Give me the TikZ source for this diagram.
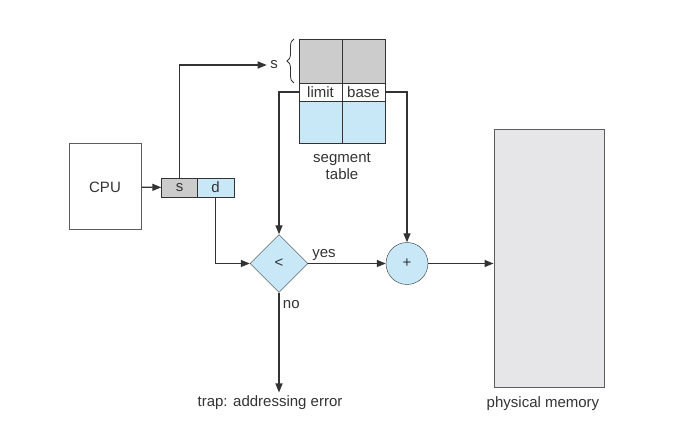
\documentclass[tikz,border=0pt]{standalone}
\usepackage{fontspec}
\setmainfont{Liberation Sans}
\usetikzlibrary{shapes.geometric, arrows.meta, decorations.pathreplacing}
\definecolor{cellgray}{HTML}{CCCCCC}
\definecolor{cellblue}{HTML}{C8E8F8}
\definecolor{memgray}{HTML}{E6E6E8}
\definecolor{ink}{HTML}{333333}

\begin{document}
\begin{tikzpicture}[x=1pt, y=-1pt,
    every node/.style={font=\fontsize{15}{17}\selectfont, text=ink},
    cell/.style={draw=ink, rectangle, inner sep=0pt},
    link/.style={-{Triangle[length=9pt, width=7pt]}, draw=ink, line width=1.3pt}]
\useasboundingbox (0,0) rectangle (677,446);

% CPU and logical address
\node[draw=ink!80, line width=1pt, rectangle, minimum width=72, minimum height=86] (cpu) at (105,187) {CPU};
\node[cell, fill=cellgray, minimum width=36, minimum height=19] (sfield) at (179.5,187.5) {s};
\node[cell, fill=cellblue, minimum width=37, minimum height=19] (dfield) at (215.5,187.5) {d};

% Segment table
\node[cell, fill=cellgray, minimum width=43, minimum height=44] (glimit) at (320.5,61) {};
\node[cell, fill=cellgray, minimum width=43, minimum height=44] (gbase) at (363.5,61) {};
\node[cell, fill=white, minimum width=43, minimum height=18] (limit) at (320.5,92) {limit};
\node[cell, fill=white, minimum width=43, minimum height=18] (base) at (363.5,92) {base};
\node[cell, fill=cellblue, minimum width=43, minimum height=42] (blimit) at (320.5,122) {};
\node[cell, fill=cellblue, minimum width=43, minimum height=42] (bbase) at (363.5,122) {};
\node[align=center] (tablename) at (342,166) {segment\\table};
\draw[ink, line width=0.8pt, decorate, decoration={brace, amplitude=7pt}] (294,83) -- (294,39);
\node (sindex) at (274,65) {s};

% Compare, add, memory
\node[draw=ink, diamond, aspect=1, fill=cellblue, inner sep=0pt, minimum width=58, minimum height=58] (lt) at (279,263.5) {<};
\node[draw=ink, circle, fill=cellblue, inner sep=0pt, minimum size=42] (plus) at (407,263.5) {+};
\node[draw=ink!80, line width=1pt, rectangle, fill=memgray, minimum width=110, minimum height=257] (mem) at (549,258.5) {};
\node (memname) at (543,404) {physical memory};
\node (trap) at (270,403) {trap: addressing error};

\draw[link] (cpu) -- (sfield);
\draw[link] (sfield.north) |- (sindex.west);
\draw[link] (dfield.south) |- (lt.west);
\draw[link] (limit.west) -| (lt.north);
\draw[link] (base.east) -| (plus.north);
\draw[link] (lt.east) -- node[pos=0.02, anchor=south west, inner sep=2pt] {yes} (plus.west);
\draw[link] (plus.east) -- (plus.east -| mem.west);
\draw[link] (lt.south) -- node[pos=0.12, right] {no} (lt.south |- trap.north);
\end{tikzpicture}
\end{document}
